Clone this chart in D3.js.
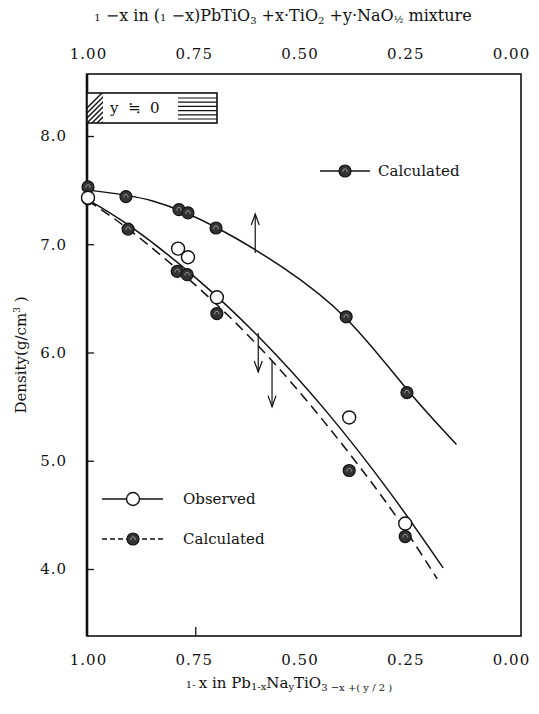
<!DOCTYPE html>
<html>
<head>
<meta charset="utf-8">
<script src="https://cdn.jsdelivr.net/npm/d3@7"></script>
<style>
  html, body { margin: 0; padding: 0; background: #fff; }
  svg { display: block; }
  text { font-family: "DejaVu Serif", "Liberation Serif", serif; fill: #111; }
</style>
</head>
<body>
<script>
// Tick values
const xTicks = [1.00, 0.75, 0.50, 0.25, 0.00];
const yTicks = [4.0, 5.0, 6.0, 7.0, 8.0];

// Measured (open circles)
const obsX = [1.00, 0.791, 0.768, 0.701, 0.394, 0.264];
const obsY = [7.43, 6.96, 6.88, 6.51, 5.40, 4.42];

// Calculated for Pb1-xNayTiO3-x+(y/2) (filled, dashed curve)
const calcX = [1.00, 0.907, 0.793, 0.770, 0.701, 0.394, 0.264];
const calcY = [7.42, 7.14, 6.75, 6.72, 6.36, 4.91, 4.30];

// Calculated for the mixture (filled, upper curve)
const mixX = [1.00, 0.912, 0.789, 0.768, 0.703, 0.401, 0.260];
const mixY = [7.53, 7.44, 7.32, 7.29, 7.15, 6.33, 5.63];

// Hand-drawn fit curves
const obsCurveX = [1.00, 0.90, 0.75, 0.60, 0.45, 0.30, 0.176];
const obsCurveY = [7.41, 7.16, 6.69, 6.13, 5.47, 4.71, 4.01];
const calcCurveX = [1.00, 0.90, 0.75, 0.60, 0.45, 0.30, 0.19];
const calcCurveY = [7.40, 7.12, 6.62, 6.04, 5.35, 4.57, 3.91];
const mixCurveX = [1.00, 0.85, 0.70, 0.55, 0.40, 0.26, 0.145];
const mixCurveY = [7.50, 7.40, 7.15, 6.79, 6.31, 5.66, 5.15];

// Shift arrows: [x, from, to]
const arrows = [[0.612, 6.92, 7.28], [0.605, 6.18, 5.82], [0.573, 5.92, 5.50]];

const W = 539, H = 714;
const frame = { left: 87, right: 521, top: 74, bottom: 636 };

const svg = d3.select("body").append("svg").attr("width", W).attr("height", H);

const x = d3.scaleLinear().domain([1, 0]).range([88, 519]);
const y = d3.scaleLinear().domain([8, 4]).range([136, 569]);

// Frame
svg.append("rect")
  .attr("x", frame.left).attr("y", frame.top)
  .attr("width", frame.right - frame.left).attr("height", frame.bottom - frame.top)
  .attr("fill", "none").attr("stroke", "#111").attr("stroke-width", 1.6);
svg.append("line")
  .attr("x1", frame.left).attr("x2", frame.left)
  .attr("y1", frame.top).attr("y2", frame.bottom)
  .attr("stroke", "#111").attr("stroke-width", 2.6);

const tickFont = sel => sel.attr("font-size", 15).attr("letter-spacing", 1)
  .attr("font-family", "DejaVu Serif, serif").attr("fill", "#111");

// Left axis: inward ticks
const yAxis = d3.axisLeft(y).tickValues(yTicks).tickSize(-7).tickPadding(20)
  .tickFormat(d3.format(".1f"));
const gy = svg.append("g").attr("transform", `translate(${frame.left},0)`).call(yAxis);
gy.select(".domain").remove();
gy.selectAll(".tick line").attr("stroke", "#111").attr("stroke-width", 1.3);
gy.selectAll(".tick text").call(tickFont);

// Bottom axis
const xAxisB = d3.axisBottom(x).tickValues(xTicks).tickSize(0).tickPadding(18)
  .tickFormat(d3.format(".2f"));
const gxb = svg.append("g").attr("transform", `translate(0,${frame.bottom})`).call(xAxisB);
gxb.select(".domain").remove();
gxb.selectAll(".tick text").call(tickFont).attr("dx", d => -(1 - d) * 8);
svg.append("line")
  .attr("x1", x(0.75)).attr("x2", x(0.75))
  .attr("y1", frame.bottom).attr("y2", frame.bottom - 9)
  .attr("stroke", "#111").attr("stroke-width", 1.3);

// Top axis
const xAxisT = d3.axisTop(x).tickValues(xTicks).tickSize(0).tickPadding(15)
  .tickFormat(d3.format(".2f"));
const gxt = svg.append("g").attr("transform", `translate(0,${frame.top})`).call(xAxisT);
gxt.select(".domain").remove();
gxt.selectAll(".tick text").call(tickFont).attr("dx", d => -(1 - d) * 8);

// Axis titles
const topTitle = svg.append("text").attr("x", 283).attr("y", 21)
  .attr("text-anchor", "middle").attr("font-size", 16);
topTitle.append("tspan").attr("font-size", 10).text("1");
topTitle.append("tspan").text(" −x  in  (");
topTitle.append("tspan").attr("font-size", 10).text("1");
topTitle.append("tspan").text(" −x)PbTiO");
topTitle.append("tspan").attr("font-size", 10).attr("dy", 3).text("3");
topTitle.append("tspan").attr("dy", -3).text(" +x·TiO");
topTitle.append("tspan").attr("font-size", 10).attr("dy", 3).text("2");
topTitle.append("tspan").attr("dy", -3).text(" +y·NaO");
topTitle.append("tspan").attr("font-size", 10).attr("dy", 2).text("½");
topTitle.append("tspan").attr("dy", -2).text(" mixture");

const botTitle = svg.append("text").attr("x", 289).attr("y", 688)
  .attr("text-anchor", "middle").attr("font-size", 15);
botTitle.append("tspan").attr("font-size", 10).text("1- ");
botTitle.append("tspan").text("x in  Pb");
botTitle.append("tspan").attr("font-size", 10).attr("dy", 2).text("1-x");
botTitle.append("tspan").attr("dy", -2).text("Na");
botTitle.append("tspan").attr("font-size", 10).attr("dy", 2).text("y");
botTitle.append("tspan").attr("dy", -2).text("TiO");
botTitle.append("tspan").attr("font-size", 10).attr("dy", 3).text("3 −x +( y / 2 )");

const yTitle = svg.append("text")
  .attr("transform", "translate(26,355) rotate(-90)")
  .attr("text-anchor", "middle").attr("font-size", 15);
yTitle.append("tspan").text("Density(g/cm");
yTitle.append("tspan").attr("font-size", 9).attr("dy", -6).text("3");
yTitle.append("tspan").attr("dy", 6).text(" )");

// Curves
const line = d3.line().x(d => x(d[0])).y(d => y(d[1])).curve(d3.curveNatural);
const zip = (a, b) => a.map((v, i) => [v, b[i]]);

svg.append("path").datum(zip(mixCurveX, mixCurveY)).attr("d", line)
  .attr("fill", "none").attr("stroke", "#111").attr("stroke-width", 1.5);
svg.append("path").datum(zip(obsCurveX, obsCurveY)).attr("d", line)
  .attr("fill", "none").attr("stroke", "#111").attr("stroke-width", 1.5);
svg.append("path").datum(zip(calcCurveX, calcCurveY)).attr("d", line)
  .attr("fill", "none").attr("stroke", "#111").attr("stroke-width", 1.5)
  .attr("stroke-dasharray", "10,6");

// Arrows
arrows.forEach(([ax, y0, y1]) => {
  const g = svg.append("g").attr("stroke", "#111").attr("stroke-width", 1.2).attr("fill", "none");
  const px = x(ax), p0 = y(y0), p1 = y(y1);
  const dir = p1 < p0 ? 1 : -1;
  g.append("line").attr("x1", px).attr("x2", px).attr("y1", p0).attr("y2", p1);
  g.append("path").attr("d", `M${px - 4},${p1 + dir * 11} L${px},${p1} L${px + 4},${p1 + dir * 11}`);
});

// Markers
function filledMarker(sel, cx, cy) {
  const g = sel.append("g").attr("transform", `translate(${cx},${cy})`);
  g.append("circle").attr("r", 6).attr("fill", "#333").attr("stroke", "#111").attr("stroke-width", 1.2);
  g.append("path").attr("d", "M-2,1 A2.2,2.2 0 1 1 2,1").attr("fill", "none")
    .attr("stroke", "#aaa").attr("stroke-width", 0.9);
}
function openMarker(sel, cx, cy) {
  sel.append("circle").attr("cx", cx).attr("cy", cy).attr("r", 6.5)
    .attr("fill", "#fff").attr("stroke", "#111").attr("stroke-width", 1.4);
}

mixX.forEach((v, i) => filledMarker(svg, x(v), y(mixY[i])));
calcX.forEach((v, i) => filledMarker(svg, x(v), y(calcY[i])));
obsX.forEach((v, i) => openMarker(svg, x(v), y(obsY[i])));

// Legend: upper calculated
svg.append("line").attr("x1", 320).attr("x2", 370).attr("y1", 171).attr("y2", 171)
  .attr("stroke", "#111").attr("stroke-width", 1.4);
filledMarker(svg, 345, 171);
svg.append("text").attr("x", 378).attr("y", 176).attr("font-size", 15).text("Calculated");

// Legend: bottom
svg.append("line").attr("x1", 102).attr("x2", 163).attr("y1", 499).attr("y2", 499)
  .attr("stroke", "#111").attr("stroke-width", 1.4);
openMarker(svg, 133, 499);
svg.append("text").attr("x", 183).attr("y", 504).attr("font-size", 15).text("Observed");

svg.append("line").attr("x1", 102).attr("x2", 163).attr("y1", 539).attr("y2", 539)
  .attr("stroke", "#111").attr("stroke-width", 1.4).attr("stroke-dasharray", "5,3");
filledMarker(svg, 133, 539);
svg.append("text").attr("x", 183).attr("y", 544).attr("font-size", 15).text("Calculated");

// y ≒ 0 box with hatching
const box = { x: 87, y: 93, w: 130, h: 30 };
const bg = svg.append("g");
bg.append("rect").attr("x", box.x).attr("y", box.y).attr("width", box.w).attr("height", box.h)
  .attr("fill", "#fff").attr("stroke", "#111").attr("stroke-width", 1.6);
const defs = svg.append("defs");
defs.append("clipPath").attr("id", "hatchClip").append("rect")
  .attr("x", box.x).attr("y", box.y).attr("width", 16).attr("height", box.h);
const hatch = bg.append("g").attr("clip-path", "url(#hatchClip)")
  .attr("stroke", "#111").attr("stroke-width", 1.4);
d3.range(-3, 9).forEach(i => {
  const bx = box.x + i * 5;
  hatch.append("line").attr("x1", bx).attr("y1", box.y + box.h).attr("x2", bx + box.h).attr("y2", box.y);
});
d3.range(6).forEach(i => {
  const hy = box.y + 5 + i * 4.2;
  bg.append("line").attr("x1", 178).attr("x2", box.x + box.w).attr("y1", hy).attr("y2", hy)
    .attr("stroke", "#111").attr("stroke-width", 1.2);
});
bg.append("text").attr("x", 110).attr("y", 113).attr("font-size", 15)
  .attr("xml:space", "preserve").text("y  ≒  0");
</script>
</body>
</html>
